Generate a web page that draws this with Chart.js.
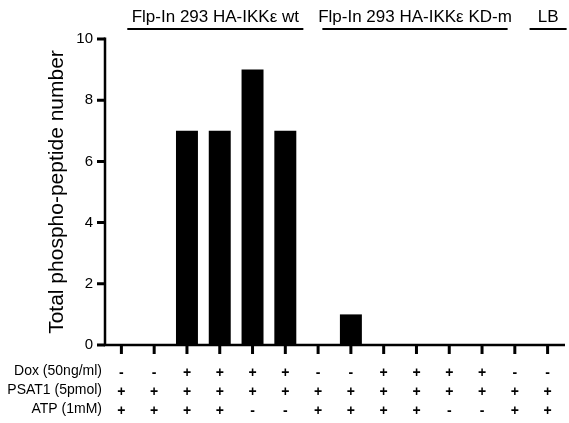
<!DOCTYPE html>
<html><head><meta charset="utf-8">
<script src="https://cdn.jsdelivr.net/npm/chart.js@4/dist/chart.umd.min.js"></script>
<style>html,body{margin:0;padding:0;background:#fff}</style>
</head><body>
<canvas id="c" width="569" height="423"></canvas>
<script>
const categories = ['L1','L2','L3','L4','L5','L6','L7','L8','L9','L10','L11','L12','L13','L14'];
const values = [0,0,7,7,9,7,0,1,0,0,0,0,0,0];
const doxRow  = ['-','-','+','+','+','+','-','-','+','+','+','+','-','-'];
const psatRow = ['+','+','+','+','+','+','+','+','+','+','+','+','+','+'];
const atpRow  = ['+','+','+','+','-','-','+','+','+','+','-','-','+','+'];
const rowNames = ['Dox (50ng/ml)','PSAT1 (5pmol)','ATP (1mM)'];
const yTickValues = [0,2,4,6,8,10];
const yTitle = 'Total phospho-peptide number';
const groupNames = ['Flp-In 293 HA-IKK\u03b5 wt','Flp-In 293 HA-IKK\u03b5 KD-m','LB'];
const groupStart = [0.18, 6.13, 12.45];
const groupEnd   = [5.55, 11.78, 13.58];

const FONT = "'Liberation Sans', Arial, Helvetica, sans-serif";
const TICK_LEN = 8, ROW_LH = 19, ROW0_OFFSET = 26;

const annot = {
  id: 'annot',
  afterDraw(chart) {
    const ctx = chart.ctx, xs = chart.scales.x, ys = chart.scales.y;
    ctx.save();
    ctx.strokeStyle = '#000';
    ctx.lineCap = 'butt';
    ctx.lineWidth = 2.5;
    const ax = ys.right, ay = xs.top;
    ctx.beginPath();
    ctx.moveTo(ax, ys.getPixelForValue(10) - 1.5);
    ctx.lineTo(ax, ay + 1.25);
    ctx.moveTo(ax - 1.25, ay);
    ctx.lineTo(xs.right + 1, ay);
    ctx.stroke();
    ctx.lineWidth = 3;
    ctx.beginPath();
    yTickValues.forEach(v => {
      const y = ys.getPixelForValue(v);
      ctx.moveTo(ax - TICK_LEN, y); ctx.lineTo(ax, y);
    });
    categories.forEach((c, i) => {
      const x = xs.getPixelForValue(i);
      ctx.moveTo(x, ay); ctx.lineTo(x, ay + TICK_LEN + 1);
    });
    ctx.stroke();
    ctx.restore();

    ctx.save();
    ctx.fillStyle = '#000';
    ctx.font = '21px ' + FONT;
    ctx.textAlign = 'center';
    ctx.textBaseline = 'middle';
    ctx.translate(57, (ys.top + ys.bottom) / 2);
    ctx.rotate(-Math.PI / 2);
    ctx.fillText(yTitle, 0, 0);
    ctx.restore();

    ctx.save();
    ctx.fillStyle = '#000';
    ctx.font = '14px ' + FONT;
    ctx.textAlign = 'right';
    ctx.textBaseline = 'middle';
    rowNames.forEach((n, i) => {
      ctx.fillText(n, xs.left - 3, xs.top + ROW0_OFFSET + i * ROW_LH);
    });
    ctx.font = '17px ' + FONT;
    ctx.textAlign = 'center';
    ctx.textBaseline = 'alphabetic';
    ctx.lineWidth = 2;
    ctx.strokeStyle = '#000';
    groupNames.forEach((n, i) => {
      const a = xs.getPixelForValue(groupStart[i]);
      const b = xs.getPixelForValue(groupEnd[i]);
      ctx.beginPath();
      ctx.moveTo(a, 29); ctx.lineTo(b, 29);
      ctx.stroke();
      ctx.fillText(n, (a + b) / 2, 21.5);
    });
    ctx.restore();
  }
};

new Chart(document.getElementById('c'), {
  type: 'bar',
  data: {
    labels: categories,
    datasets: [{
      data: values,
      backgroundColor: '#000',
      borderColor: '#000',
      borderWidth: 0,
      categoryPercentage: 1,
      barPercentage: 0.67
    }]
  },
  options: {
    responsive: false,
    animation: false,
    layout: { padding: { left: 0, right: 5, top: 39, bottom: 0 } },
    plugins: { legend: { display: false }, tooltip: { enabled: false } },
    scales: {
      x: {
        offset: true,
        grid: { display: false },
        border: { display: false },
        ticks: {
          autoSkip: false, maxRotation: 0, padding: 11,
          color: '#000',
          font: { family: FONT, size: 14, weight: 'bold', lineHeight: ROW_LH / 14 },
          callback: (v, i) => [doxRow[i], psatRow[i], atpRow[i]]
        },
        afterFit(s) { s.height = 423 - 345; }
      },
      y: {
        min: 0, max: 10,
        afterBuildTicks(s) { s.ticks = yTickValues.map(v => ({ value: v })); },
        grid: { display: false },
        border: { display: false },
        ticks: { color: '#000', padding: 4, font: { family: FONT, size: 15 } },
        afterFit(s) { s.width = 105; }
      }
    }
  },
  plugins: [annot]
});
</script>
</body></html>
